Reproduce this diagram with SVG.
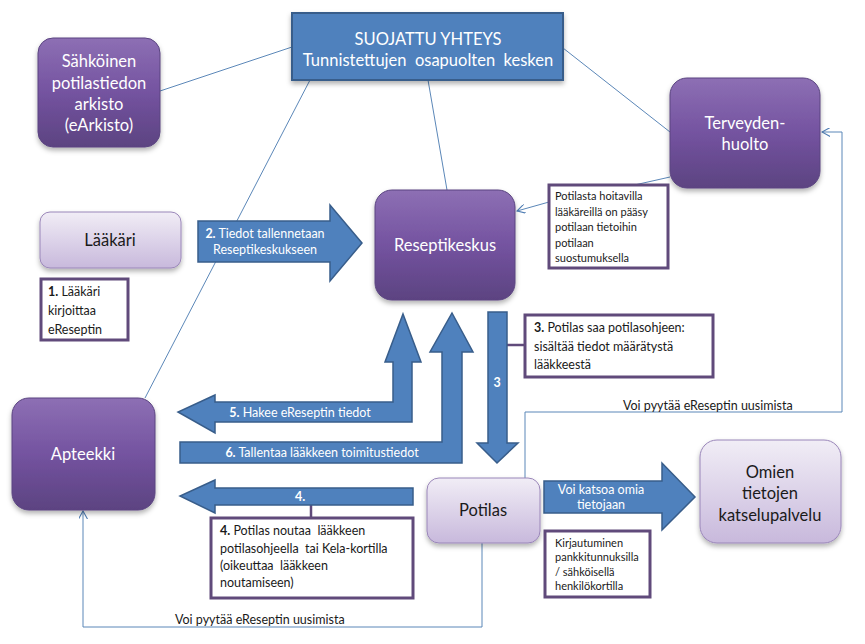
<svg xmlns="http://www.w3.org/2000/svg" width="865" height="644" viewBox="0 0 865 644">
<defs>
<linearGradient id="gDark" x1="0" y1="0" x2="0" y2="1">
<stop offset="0" stop-color="#8d6fb4"/><stop offset="0.5" stop-color="#7453a0"/><stop offset="1" stop-color="#5c4381"/>
</linearGradient>
<linearGradient id="gLight" x1="0" y1="0" x2="0" y2="1">
<stop offset="0" stop-color="#f1edf6"/><stop offset="1" stop-color="#c8b9dc"/>
</linearGradient>
<filter id="sh" x="-20%" y="-20%" width="140%" height="150%">
<feDropShadow dx="0" dy="3" stdDeviation="2.5" flood-color="#000" flood-opacity="0.3"/>
</filter>
<marker id="open" viewBox="0 0 10 10" refX="9" refY="5" markerWidth="9" markerHeight="9" orient="auto-start-reverse" markerUnits="userSpaceOnUse">
<path d="M0,0 L9,5 L0,10" fill="none" stroke="#4f7db3" stroke-width="1.2"/>
</marker>
</defs>
<style>
.dark{fill:url(#gDark);stroke:#5a4480;stroke-width:1;filter:url(#sh)}
.light{fill:url(#gLight);stroke:#9a86b9;stroke-width:1;filter:url(#sh)}
.blk{fill:#4f81bd;stroke:#385d8a;stroke-width:1.5}
.call{fill:#fff;stroke:#604a7b;stroke-width:3}
.conn{fill:none;stroke:#5b87b8;stroke-width:1}
.pc{fill:none;stroke:#604a7b;stroke-width:2.5}
text{font-family:Lato,"Open Sans","Liberation Sans",sans-serif;white-space:pre}
.wt{fill:#fff;font-size:16.5px;text-anchor:middle}
.bt{fill:#1a1a1a;font-size:16.5px;text-anchor:middle}
.at{fill:#fff;font-size:12.5px;text-anchor:middle}
.ct{fill:#1a1a1a;font-size:12.5px}
.st{fill:#1a1a1a;font-size:11px}
.lt{fill:#1a1a1a;font-size:12.5px}
</style>
<rect width="865" height="644" fill="#fff"/>

<g id="connectors">
<line class="conn" x1="160" y1="91" x2="292" y2="47"/>
<line class="conn" x1="563" y1="48" x2="670" y2="132"/>
<line class="conn" x1="310" y1="80" x2="145" y2="398"/>
<line class="conn" x1="428" y1="80" x2="447" y2="190"/>
<line class="conn" x1="670" y1="177" x2="630" y2="186"/>
<line class="conn" x1="549" y1="202" x2="517" y2="211" marker-end="url(#open)"/>
<polyline class="conn" points="525,478 525,412 842,412 842,132 822,132" marker-end="url(#open)"/>
<polyline class="conn" points="482,543 482,627 83,627 83,511" marker-end="url(#open)"/>
<line class="pc" x1="507" y1="345" x2="525" y2="345"/>
<line class="pc" x1="311" y1="505" x2="311" y2="518"/>
<text class="lt" x="623" y="410">Voi pyytää eReseptin uusimista</text>
<text class="lt" x="175" y="624">Voi pyytää eReseptin uusimista</text>
</g>

<g id="arrow2">
<path class="blk" d="M198,221 L330,221 L330,205 L362,243 L330,281 L330,262 L198,262 Z"/>
<text class="at" x="265" y="238"><tspan font-weight="bold">2.</tspan> Tiedot tallennetaan</text>
<text class="at" x="265" y="254">Reseptikeskukseen</text>
</g>
<g id="arrow5">
<path class="blk" d="M403,314 L421,362 L412,362 L412,422 L215,422 L215,433 L178,412 L215,395 L215,402 L393,402 L393,362 L385,362 Z"/>
<text class="at" x="300" y="417"><tspan font-weight="bold">5.</tspan> Hakee eReseptin tiedot</text>
</g>
<g id="arrow6">
<path class="blk" d="M452,313 L473,352 L462,352 L462,463 L180,463 L180,442 L442,442 L442,352 L430,352 Z"/>
<text class="at" x="322" y="457"><tspan font-weight="bold">6.</tspan> Tallentaa lääkkeen toimitustiedot</text>
</g>
<g id="arrow3">
<path class="blk" d="M488,312 L507,312 L507,443 L518,443 L497,463 L477,443 L488,443 Z"/>
<text class="at" x="497" y="387" font-weight="bold">3</text>
</g>
<g id="arrow4">
<path class="blk" d="M413,488 L215,488 L215,480 L180,496 L215,513 L215,505 L413,505 Z"/>
<text class="at" x="300" y="501" font-weight="bold">4.</text>
</g>
<g id="arrowKatsoa">
<path class="blk" d="M544,481 L662,481 L662,463 L695,497 L662,530 L662,513 L544,513 Z"/>
<text class="at" x="601" y="494">Voi katsoa omia</text>
<text class="at" x="601" y="509">tietojaan</text>
</g>

<g id="suojattu">
<rect x="292" y="13" width="271" height="67" fill="#4f81bd" stroke="#385d8a" stroke-width="2" filter="url(#sh)"/>
<text class="wt" x="428" y="45">SUOJATTU YHTEYS</text>
<text class="wt" x="428" y="66">Tunnistettujen  osapuolten  kesken</text>
</g>
<g id="earkisto">
<rect class="dark" x="38" y="38" width="122" height="109" rx="15"/>
<text class="wt" x="99" y="67">Sähköinen</text>
<text class="wt" x="99" y="89">potilastiedon</text>
<text class="wt" x="99" y="110">arkisto</text>
<text class="wt" x="99" y="131">(eArkisto)</text>
</g>
<g id="terveydenhuolto">
<rect class="dark" x="670" y="78" width="150" height="110" rx="17"/>
<text class="wt" x="745" y="129">Terveyden-</text>
<text class="wt" x="745" y="150">huolto</text>
</g>
<g id="reseptikeskus">
<rect class="dark" x="375" y="190" width="140" height="110" rx="17"/>
<text class="wt" x="445" y="251">Reseptikeskus</text>
</g>
<g id="laakari">
<rect class="light" x="40" y="212" width="141" height="56" rx="10"/>
<text class="bt" x="110" y="246">Lääkäri</text>
</g>
<g id="apteekki">
<rect class="dark" x="12" y="398" width="143" height="112" rx="17"/>
<text class="wt" x="83" y="460">Apteekki</text>
</g>
<g id="potilas">
<rect class="light" x="427" y="478" width="113" height="65" rx="12"/>
<text class="bt" x="483" y="516">Potilas</text>
</g>
<g id="omien">
<rect class="light" x="700" y="440" width="141" height="103" rx="17"/>
<text class="bt" x="770" y="478" font-size="17">Omien</text>
<text class="bt" x="770" y="499" font-size="17">tietojen</text>
<text class="bt" x="770" y="521" font-size="17">katselupalvelu</text>
</g>

<g id="callout1">
<rect class="call" x="41" y="279" width="87" height="61"/>
<text class="ct" x="48" y="296"><tspan font-weight="bold">1.</tspan> Lääkäri</text>
<text class="ct" x="48" y="315">kirjoittaa</text>
<text class="ct" x="48" y="334">eReseptin</text>
</g>
<g id="calloutTerveys">
<rect class="call" x="549" y="185" width="119" height="83"/>
<text class="st" x="555" y="200">Potilasta hoitavilla</text>
<text class="st" x="555" y="216">lääkäreillä on pääsy</text>
<text class="st" x="555" y="231">potilaan tietoihin</text>
<text class="st" x="555" y="247">potilaan</text>
<text class="st" x="555" y="262">suostumuksella</text>
</g>
<g id="callout3">
<rect class="call" x="525" y="315" width="188" height="62"/>
<text class="ct" x="534" y="332"><tspan font-weight="bold">3.</tspan> Potilas saa potilasohjeen:</text>
<text class="ct" x="534" y="351">sisältää tiedot määrätystä</text>
<text class="ct" x="534" y="369">lääkkeestä</text>
</g>
<g id="callout4">
<rect class="call" x="211" y="518" width="202" height="80"/>
<text class="ct" x="220" y="535"><tspan font-weight="bold">4.</tspan> Potilas noutaa  lääkkeen</text>
<text class="ct" x="220" y="553">potilasohjeella  tai Kela-kortilla</text>
<text class="ct" x="220" y="570">(oikeuttaa  lääkkeen</text>
<text class="ct" x="220" y="587">noutamiseen)</text>
</g>
<g id="calloutKirjautuminen">
<rect class="call" x="545" y="531" width="105" height="66"/>
<text class="st" x="555" y="547">Kirjautuminen</text>
<text class="st" x="555" y="561">pankkitunnuksilla</text>
<text class="st" x="555" y="576">/ sähköisellä</text>
<text class="st" x="555" y="590">henkilökortilla</text>
</g>
</svg>
